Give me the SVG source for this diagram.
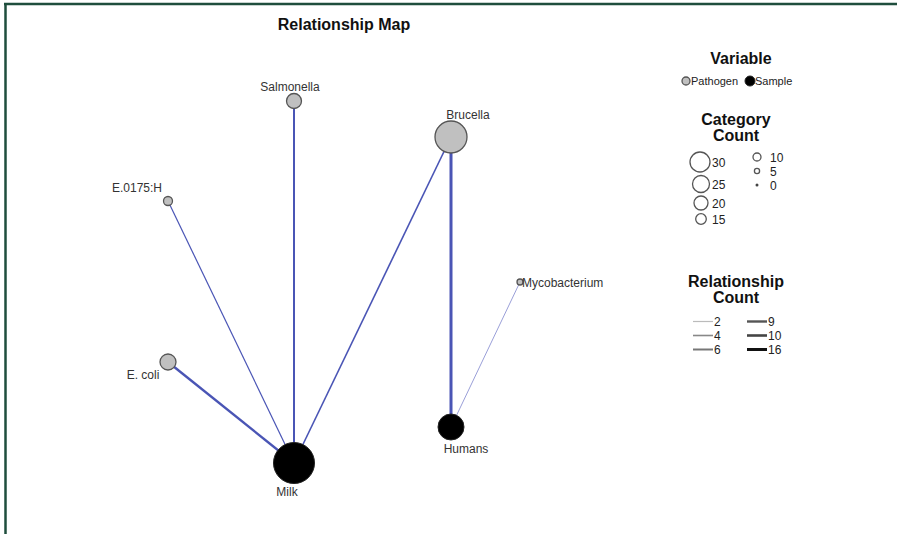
<svg xmlns="http://www.w3.org/2000/svg" width="897" height="534" viewBox="0 0 897 534">
<style>
text{font-family:"Liberation Sans",Arial,sans-serif;fill:#222}
.t{font-weight:bold;font-size:16px;text-anchor:middle;fill:#111}
.lbl{font-size:12px;fill:#333}
.lg{font-size:11px}
.num{font-size:12px}
.pat{fill:#c0c0c0;stroke:#555;stroke-width:1.3}
.smp{fill:#000;stroke:#222;stroke-width:1}
.lc{fill:#fff;stroke:#555;stroke-width:1.3}
.e{stroke:#4a55b5;fill:none}
</style>
<rect width="897" height="534" fill="#fff"/>
<line x1="4" y1="4" x2="897" y2="4" stroke="#1f4e3d" stroke-width="2.5"/>
<line x1="5.5" y1="4" x2="5.5" y2="534" stroke="#1f4e3d" stroke-width="2.5"/>
<text class="t" x="344" y="30">Relationship Map</text>
<g id="connectors">
<line class="e" x1="294" y1="101" x2="294" y2="463" stroke-width="2"/>
<line class="e" x1="451" y1="137" x2="294" y2="463" stroke-width="1.6"/>
<line class="e" x1="168" y1="201" x2="294" y2="463" stroke-width="1.2"/>
<line class="e" x1="168" y1="362" x2="294" y2="463" stroke-width="2.4"/>
<line class="e" x1="451" y1="137" x2="451" y2="427" stroke-width="3"/>
<line x1="520" y1="282" x2="451" y2="427" stroke="#9a9fd8" stroke-width="1"/>
</g>
<g id="salmonella"><circle class="pat" cx="294" cy="101" r="7.5"/><text class="lbl" x="290" y="91" text-anchor="middle">Salmonella</text></g>
<g id="brucella"><circle class="pat" cx="451" cy="137" r="16"/><text class="lbl" x="468" y="119" text-anchor="middle">Brucella</text></g>
<g id="e0175h"><circle class="pat" cx="168" cy="201" r="4.5"/><text class="lbl" x="137" y="192" text-anchor="middle">E.0175:H</text></g>
<g id="ecoli"><circle class="pat" cx="168" cy="362" r="8"/><text class="lbl" x="143" y="379" text-anchor="middle">E. coli</text></g>
<g id="mycobacterium"><circle class="pat" cx="520" cy="282" r="3"/><text class="lbl" x="522" y="287">Mycobacterium</text></g>
<g id="milk"><circle class="smp" cx="294" cy="463" r="20.5"/><text class="lbl" x="287" y="496" text-anchor="middle">Milk</text></g>
<g id="humans"><circle class="smp" cx="451" cy="427" r="13"/><text class="lbl" x="466" y="453" text-anchor="middle">Humans</text></g>
<g id="legend">
<text class="t" x="741" y="64">Variable</text>
<circle class="pat" cx="686" cy="81" r="4"/><text class="lg" x="691" y="85">Pathogen</text>
<circle class="smp" cx="750" cy="81" r="5"/><text class="lg" x="755" y="85">Sample</text>
<text class="t" x="736" y="125">Category</text>
<text class="t" x="736" y="141">Count</text>
<circle class="lc" cx="700" cy="162" r="10"/><text class="num" x="712" y="167">30</text>
<circle class="lc" cx="701" cy="184" r="8.5"/><text class="num" x="712" y="189">25</text>
<circle class="lc" cx="701" cy="203" r="7"/><text class="num" x="712" y="208">20</text>
<circle class="lc" cx="701" cy="219" r="5.3"/><text class="num" x="712" y="224">15</text>
<circle class="lc" cx="757" cy="157" r="4"/><text class="num" x="770" y="162">10</text>
<circle class="lc" cx="757" cy="171" r="2.6"/><text class="num" x="770" y="176">5</text>
<circle cx="757" cy="185" r="1.5" fill="#444"/><text class="num" x="770" y="190">0</text>
<text class="t" x="736" y="287">Relationship</text>
<text class="t" x="736" y="303">Count</text>
<line x1="693" y1="321.5" x2="713" y2="321.5" stroke="#bbb" stroke-width="1.2"/><text class="num" x="714" y="326">2</text>
<line x1="693" y1="335.5" x2="713" y2="335.5" stroke="#888" stroke-width="1.6"/><text class="num" x="714" y="340">4</text>
<line x1="693" y1="349.5" x2="713" y2="349.5" stroke="#777" stroke-width="2"/><text class="num" x="714" y="354">6</text>
<line x1="747" y1="321.5" x2="767" y2="321.5" stroke="#555" stroke-width="2.4"/><text class="num" x="768" y="326">9</text>
<line x1="747" y1="335.5" x2="767" y2="335.5" stroke="#444" stroke-width="2.6"/><text class="num" x="768" y="340">10</text>
<line x1="747" y1="349.5" x2="767" y2="349.5" stroke="#111" stroke-width="3"/><text class="num" x="768" y="354">16</text>
</g>
</svg>
